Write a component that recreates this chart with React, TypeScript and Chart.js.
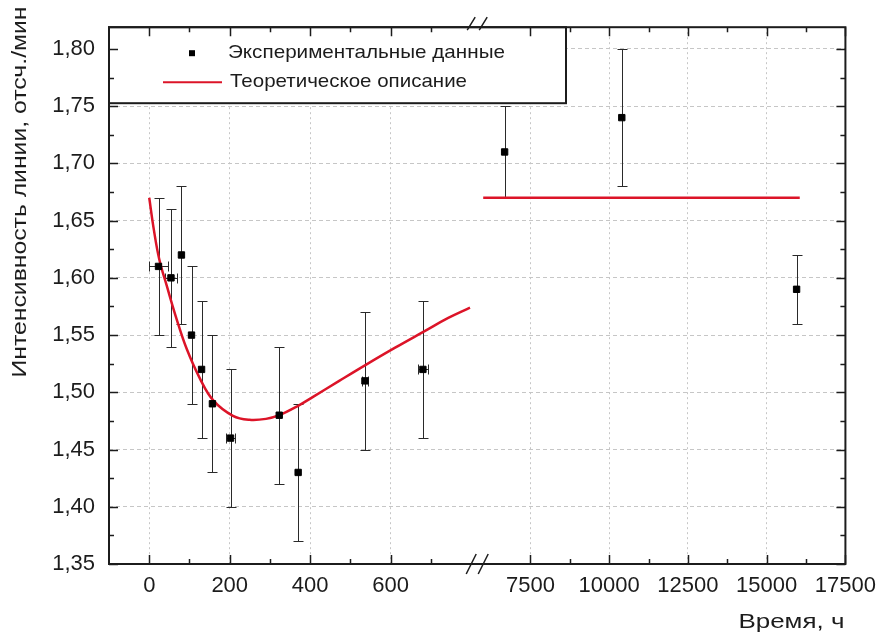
import React, { useEffect, useRef } from 'react';
import { Chart, registerables, LinearScale } from 'chart.js';

Chart.register(...registerables);

// Experimental measurements: time (h), line intensity (counts/min) and their uncertainties
const expTime = [23, 54, 80, 105, 130, 157, 202, 323, 370, 536, 680, 6680, 10400, 15950];
const expIntensity = [1.61, 1.6, 1.62, 1.55, 1.52, 1.49, 1.46, 1.48, 1.43, 1.51, 1.52, 1.71, 1.74, 1.59];
const expIntensityErr = [0.06, 0.06, 0.06, 0.06, 0.06, 0.06, 0.06, 0.06, 0.06, 0.06, 0.06, 0.04, 0.06, 0.03];
const expTimeErr = [23, 14, 0, 0, 0, 0, 11, 0, 0, 8, 12, 0, 0, 0];

// Theoretical description: early-time curve and long-time plateau
const fitTime = [0, 11, 25, 44, 68, 93, 126, 159, 208, 249, 290, 323, 373, 406, 472, 538, 611, 682, 743, 797];
const fitIntensity = [1.67, 1.643, 1.616, 1.5925, 1.564, 1.538, 1.512, 1.493, 1.4795, 1.476, 1.4768, 1.48, 1.4888, 1.4958, 1.51, 1.524, 1.539, 1.553, 1.565, 1.574];
const plateauTime = [6000, 16050];
const plateauIntensity = [1.67, 1.67];

// Axis definitions (broken time axis)
const xLowRange = [-100, 800];
const xHighRange = [6000, 17500];
const xTicks = [0, 200, 400, 600, 7500, 10000, 12500, 15000, 17500];
const xMinorTicks = [100, 300, 500, 700, 8750, 11250, 13750, 16250];
const yRange = [1.35, 1.819];
const yTicks = [1.35, 1.4, 1.45, 1.5, 1.55, 1.6, 1.65, 1.7, 1.75, 1.8];
const yMinorTicks = [1.375, 1.425, 1.475, 1.525, 1.575, 1.625, 1.675, 1.725, 1.775];

const legendLabels = ['Экспериментальные данные', 'Теоретическое описание'];
const xTitle = 'Время, ч';
const yTitle = 'Интенсивность линии, отсч./мин';

const FONT = '"Liberation Sans", Arial, Helvetica, sans-serif';
const INK = '#1c1c1c';
const RED = '#dc1428';
const BREAK_GAP = 12;

// Linear scale split into two equal-width segments separated by a small gap
class BrokenLinearScale extends LinearScale {
  static id = 'brokenLinear';

  getPixelForValue(value: number) {
    const half = (this.width - BREAK_GAP) / 2;
    if (value <= xLowRange[1]) {
      return this.left + ((value - xLowRange[0]) / (xLowRange[1] - xLowRange[0])) * half;
    }
    return this.left + half + BREAK_GAP + ((value - xHighRange[0]) / (xHighRange[1] - xHighRange[0])) * half;
  }

  getValueForPixel(pixel: number) {
    const half = (this.width - BREAK_GAP) / 2;
    const off = pixel - this.left;
    if (off <= half + BREAK_GAP / 2) {
      return xLowRange[0] + (off / half) * (xLowRange[1] - xLowRange[0]);
    }
    return xHighRange[0] + ((off - half - BREAK_GAP) / half) * (xHighRange[1] - xHighRange[0]);
  }
}
Chart.register(BrokenLinearScale);

function fitText(ctx: CanvasRenderingContext2D, text: string, x: number, y: number, width: number, align: CanvasTextAlign) {
  const natural = ctx.measureText(text).width;
  const s = width / natural;
  ctx.save();
  ctx.translate(x, y);
  ctx.scale(s, 1);
  ctx.textAlign = align;
  ctx.textBaseline = 'middle';
  ctx.fillText(text, 0, 0);
  ctx.restore();
}

const errorBarsPlugin = {
  id: 'errorBars',
  beforeDatasetsDraw(chart: any) {
    const { ctx, scales } = chart;
    const x = scales.x;
    const y = scales.y;
    const cap = 5;
    ctx.save();
    ctx.strokeStyle = '#2a2a2a';
    ctx.lineWidth = 1;
    expTime.forEach((t, i) => {
      const px = Math.round(x.getPixelForValue(t)) + 0.5;
      const py = Math.round(y.getPixelForValue(expIntensity[i])) + 0.5;
      const yTop = Math.round(y.getPixelForValue(expIntensity[i] + expIntensityErr[i])) + 0.5;
      const yBot = Math.round(y.getPixelForValue(expIntensity[i] - expIntensityErr[i])) + 0.5;
      ctx.beginPath();
      ctx.moveTo(px, yTop);
      ctx.lineTo(px, yBot);
      ctx.moveTo(px - cap, yTop);
      ctx.lineTo(px + cap, yTop);
      ctx.moveTo(px - cap, yBot);
      ctx.lineTo(px + cap, yBot);
      if (expTimeErr[i] > 0) {
        const xl = Math.round(x.getPixelForValue(t - expTimeErr[i])) + 0.5;
        const xr = Math.round(x.getPixelForValue(t + expTimeErr[i])) + 0.5;
        ctx.moveTo(xl, py);
        ctx.lineTo(xr, py);
        ctx.moveTo(xl, py - cap);
        ctx.lineTo(xl, py + cap);
        ctx.moveTo(xr, py - cap);
        ctx.lineTo(xr, py + cap);
      }
      ctx.stroke();
    });
    ctx.restore();
  },
};

const framePlugin = {
  id: 'frameAndLegend',
  afterDraw(chart: any) {
    const { ctx, chartArea, scales } = chart;
    const x = scales.x;
    const y = scales.y;
    const { left, right, top, bottom } = chartArea;

    // legend box
    const lw = 457;
    const lh = 76;
    ctx.save();
    ctx.fillStyle = '#ffffff';
    ctx.fillRect(left, top, lw, lh);
    ctx.strokeStyle = INK;
    ctx.lineWidth = 2;
    ctx.strokeRect(left, top, lw, lh);
    ctx.fillStyle = '#000';
    ctx.fillRect(left + 80, top + 23, 6, 6);
    ctx.strokeStyle = RED;
    ctx.lineWidth = 2;
    ctx.beginPath();
    ctx.moveTo(left + 54, top + 55);
    ctx.lineTo(left + 113, top + 55);
    ctx.stroke();
    ctx.fillStyle = INK;
    ctx.font = `19px ${FONT}`;
    fitText(ctx, legendLabels[0], left + 119, top + 26, 277, 'left');
    fitText(ctx, legendLabels[1], left + 121, top + 55, 237, 'left');
    ctx.restore();

    // tick marks pointing inward on all four sides
    ctx.save();
    ctx.strokeStyle = INK;
    ctx.lineWidth = 1.5;
    ctx.beginPath();
    const majorLen = 9;
    const minorLen = 5;
    const vTick = (v: number, len: number) => {
      const px = Math.round(x.getPixelForValue(v)) + 0.5;
      ctx.moveTo(px, bottom);
      ctx.lineTo(px, bottom - len);
      ctx.moveTo(px, top);
      ctx.lineTo(px, top + len);
    };
    const hTick = (v: number, len: number) => {
      const py = Math.round(y.getPixelForValue(v)) + 0.5;
      ctx.moveTo(left, py);
      ctx.lineTo(left + len, py);
      ctx.moveTo(right, py);
      ctx.lineTo(right - len, py);
    };
    xTicks.forEach((v) => vTick(v, majorLen));
    xMinorTicks.forEach((v) => vTick(v, minorLen));
    yTicks.forEach((v) => hTick(v, majorLen));
    yMinorTicks.forEach((v) => hTick(v, minorLen));
    ctx.stroke();

    // frame
    ctx.lineWidth = 2;
    ctx.strokeRect(left, top, right - left, bottom - top);

    // axis break marks
    const bx = (x.getPixelForValue(xLowRange[1]) + x.getPixelForValue(xHighRange[0])) / 2;
    ctx.lineWidth = 1.5;
    ctx.beginPath();
    [-6, 6].forEach((d) => {
      ctx.moveTo(bx + d - 5, bottom + 10);
      ctx.lineTo(bx + d + 5, bottom - 10);
      ctx.moveTo(bx + d - 4, top + 3);
      ctx.lineTo(bx + d + 4, top - 10);
    });
    ctx.stroke();

    // axis titles
    ctx.fillStyle = INK;
    ctx.font = `21px ${FONT}`;
    fitText(ctx, xTitle, right - 1, 622, 106, 'right');
    ctx.font = `20px ${FONT}`;
    ctx.save();
    ctx.translate(20, 192);
    ctx.rotate(-Math.PI / 2);
    fitText(ctx, yTitle, 0, 0, 371, 'center');
    ctx.restore();
    ctx.restore();
  },
};

export default function App() {
  const canvasRef = useRef<HTMLCanvasElement | null>(null);

  useEffect(() => {
    if (!canvasRef.current) return;
    Chart.defaults.font.family = FONT;
    Chart.defaults.color = INK;

    const chart = new Chart(canvasRef.current, {
      type: 'scatter',
      data: {
        datasets: [
          {
            label: legendLabels[0],
            data: expTime.map((t, i) => ({ x: t, y: expIntensity[i] })),
            pointStyle: 'rect',
            pointRadius: 4.5,
            backgroundColor: '#000',
            borderColor: '#000',
            borderWidth: 1,
            showLine: false,
          },
          {
            label: legendLabels[1],
            data: fitTime.map((t, i) => ({ x: t, y: fitIntensity[i] })),
            showLine: true,
            borderColor: RED,
            borderWidth: 2.5,
            pointRadius: 0,
            tension: 0.4,
          },
          {
            label: legendLabels[1],
            data: plateauTime.map((t, i) => ({ x: t, y: plateauIntensity[i] })),
            showLine: true,
            borderColor: RED,
            borderWidth: 2.5,
            pointRadius: 0,
          },
        ],
      },
      options: {
        animation: false,
        responsive: false,
        events: [],
        layout: { padding: { top: 27, right: 36, bottom: 0, left: 0 } },
        plugins: {
          legend: { display: false },
          tooltip: { enabled: false },
          title: { display: false },
        },
        scales: {
          x: {
            type: 'brokenLinear' as any,
            min: xLowRange[0],
            max: xHighRange[1],
            afterBuildTicks: (scale: any) => {
              scale.ticks = xTicks.map((v) => ({ value: v }));
            },
            afterFit: (scale: any) => {
              scale.height = 70;
            },
            grid: { color: '#c6c6c6', lineWidth: 1, drawTicks: false },
            border: { display: false, dash: [2, 3] },
            ticks: {
              autoSkip: false,
              maxRotation: 0,
              minRotation: 0,
              padding: 9,
              color: INK,
              font: { size: 22, family: FONT },
              callback: (v: any) => String(v),
            },
          },
          y: {
            type: 'linear',
            min: yRange[0],
            max: yRange[1],
            afterBuildTicks: (scale: any) => {
              scale.ticks = yTicks.map((v) => ({ value: v }));
            },
            afterFit: (scale: any) => {
              scale.width = 109;
            },
            grid: { color: '#c6c6c6', lineWidth: 1, drawTicks: false },
            border: { display: false, dash: [4, 3] },
            ticks: {
              padding: 14,
              color: INK,
              font: { size: 22, family: FONT },
              callback: (v: any) => Number(v).toFixed(2).replace('.', ','),
            },
          },
        },
      },
      plugins: [errorBarsPlugin, framePlugin],
    });

    return () => chart.destroy();
  }, []);

  return (
    <div style={{ position: 'fixed', left: 0, top: 0, width: 885, height: 634, background: '#fff' }}>
      <canvas ref={canvasRef} width={885} height={634} style={{ display: 'block' }} />
    </div>
  );
}
